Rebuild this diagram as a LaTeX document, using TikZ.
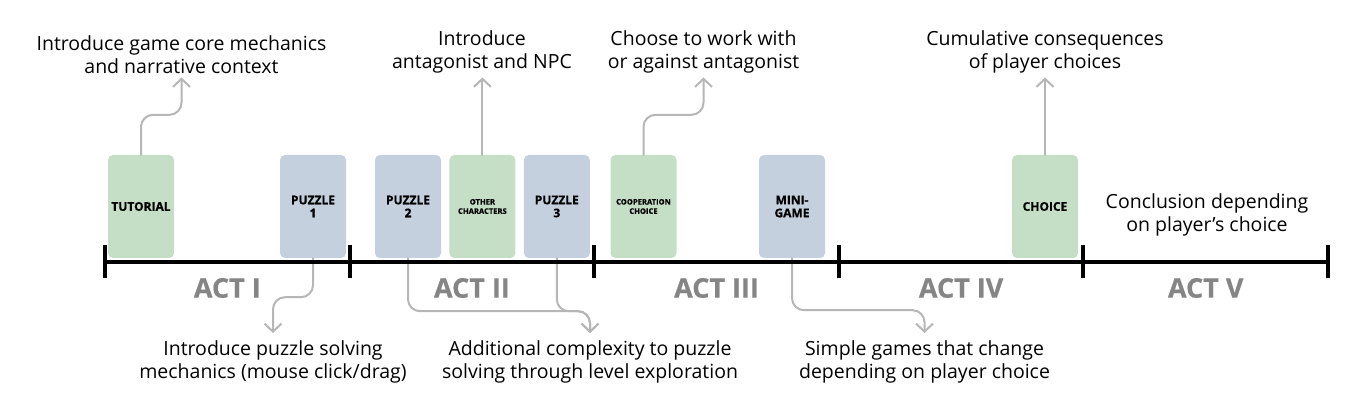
\documentclass[tikz,border=0pt]{standalone}
\usepackage{fontspec}
\setmainfont{Open Sans}
\usetikzlibrary{arrows.meta,positioning}
\definecolor{cardgreen}{RGB}{197,222,198}
\definecolor{cardblue}{RGB}{197,208,222}
\definecolor{linkgray}{RGB}{182,182,182}
\definecolor{actgray}{RGB}{133,133,133}
\begin{document}
\begin{tikzpicture}[x=1pt, y=1pt, line join=round, line cap=round,
	card/.style={rounded corners=5pt, minimum width=66pt, minimum height=103pt, inner sep=1pt, align=center, font=\bfseries\addfontfeatures{FakeBold=0.6}\fontsize{12}{13}\selectfont},
	greencard/.style={card, fill=cardgreen},
	bluecard/.style={card, fill=cardblue},
	tinytext/.style={font=\bfseries\addfontfeatures{FakeBold=0.6}\fontsize{7.6}{9.3}\selectfont},
	note/.style={align=center, inner sep=4pt, font=\fontsize{19.5}{23}\selectfont},
	act/.style={font=\bfseries\addfontfeatures{FakeBold=0.6}\fontsize{27}{27}\selectfont, text=actgray},
	link/.style={draw=linkgray, line width=2pt, rounded corners=12pt, -{Straight Barb[length=8pt,width=17pt]}}]
	\useasboundingbox (0,0) rectangle (1357,415);

	% cards
	\node[greencard] (tut) at (141,208.5) {TUTORIAL};
	\node[bluecard] (p1) at (313,208.5) {PUZZLE\\1};
	\node[bluecard] (p2) at (408,208.5) {PUZZLE\\2};
	\node[greencard, tinytext, right=8pt of p2] (oth) {OTHER\\CHARACTERS};
	\node[bluecard, right=8pt of oth] (p3) {PUZZLE\\3};
	\node[greencard, tinytext] (coop) at (643.5,208.5) {COOPERATION\\CHOICE};
	\node[bluecard] (mini) at (792,208.5) {MINI-\\GAME};
	\node[greencard] (cho) at (1045,208.5) {CHOICE};

	% notes
	\node[note, anchor=south] (ntut) at (181.5,337.5) {Introduce game core mechanics\\and narrative context};
	\node[note, anchor=south] (noth) at (482,337.5) {Introduce\\antagonist and NPC};
	\node[note, anchor=south] (ncoop) at (703.5,337.5) {Choose to work with\\or against antagonist};
	\node[note, anchor=south] (ncho) at (1045,337.5) {Cumulative consequences\\of player choices};
	\node[note] (nend) at (1207,200) {Conclusion depending\\on player’s choice};
	\node[note, anchor=north, inner sep=7pt] (np1) at (273,82) {Introduce puzzle solving\\mechanics (mouse click/drag)};
	\node[note, anchor=north, inner sep=7pt] (np23) at (590,82) {Additional complexity to puzzle\\solving through level exploration};
	\node[note, anchor=north, inner sep=7pt] (nmini) at (924.5,82) {Simple games that change\\depending on player choice};

	% links
	\draw[link] (tut.north) -- ++(0,40) -| (ntut.south);
	\draw[link] (oth.north) -- (oth.north |- noth.south);
	\draw[link] (coop.north) -- ++(0,40) -| (ncoop.south);
	\draw[link] (cho.north) -- (cho.north |- ncho.south);
	\draw[link] (p1.south) -- ++(0,-39) -| (np1.north);
	\draw[link] (p2.south) -- ++(0,-53) -| (np23.north);
	\draw[link] (p3.south) -- ++(0,-53) -| (np23.north);
	\draw[link] (mini.south) -- ++(0,-52) -| (nmini.north);

	% timeline
	\draw[line width=4pt, line cap=butt] (105,153)--(1328,153);
	\foreach \x in {105,349.6,594.2,838.8,1083.4,1328}
		\draw[line width=4pt, line cap=butt] (\x,136.5)--(\x,169.5);
	\foreach \x/\t in {227.3/ACT I,471.9/ACT II,716.5/ACT III,961.1/ACT IV,1205.7/ACT V}
		\node[act] (act-\t) at (\x,127) {\t};
\end{tikzpicture}
\end{document}
